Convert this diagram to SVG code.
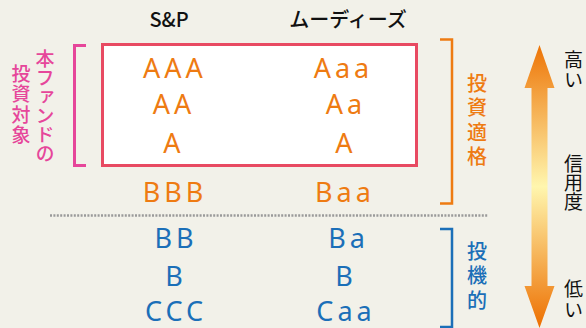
<svg xmlns="http://www.w3.org/2000/svg" width="586" height="328" viewBox="0 0 586 328">
<style>
.hd{font-family:"Noto Sans CJK JP","Noto Sans",sans-serif;font-size:20px;font-weight:500;fill:#111;text-anchor:middle}
.rt{font-family:"Noto Sans","Open Sans",sans-serif;font-size:27px;letter-spacing:4px;text-anchor:middle}
.or{fill:#ee7b12}
.bl{fill:#1b6fb8}
.vt{font-family:"Noto Sans CJK JP",sans-serif;writing-mode:vertical-rl;font-size:19px;font-weight:500}
.pk{fill:#e6469a}
.bk{fill:#111;font-weight:400}
</style>
<defs>
<linearGradient id="g" gradientUnits="userSpaceOnUse" x1="0" y1="45" x2="0" y2="328">
<stop offset="0" stop-color="#ed7406"/>
<stop offset="0.5" stop-color="#fff6ae"/>
<stop offset="1" stop-color="#ed6f00"/>
</linearGradient>
</defs>
<rect width="586" height="328" fill="#f2f1e9"/>
<g id="headers">
<text class="hd" x="169" y="27">S&amp;P</text>
<text class="hd" x="348" y="27">ムーディーズ</text>
</g>
<g id="target-box">
<rect x="102.5" y="44.5" width="314" height="121" fill="#fff" stroke="#e84a62" stroke-width="3"/>
</g>
<g id="target-label">
<path d="M86,45.5 H74.5 V165.5 H86" fill="none" stroke="#e6469a" stroke-width="3"/>
<text class="vt pk" x="45" y="49">本ファンドの</text>
<text class="vt pk" x="21" y="64" style="letter-spacing:1.5px">投資対象</text>
</g>
<g id="sp-ratings">
<text class="rt or" x="175" y="77.5">AAA</text>
<text class="rt or" x="174" y="114">AA</text>
<text class="rt or" x="174" y="152.5">A</text>
<text class="rt or" x="175" y="202">BBB</text>
<text class="rt bl" x="176" y="248">BB</text>
<text class="rt bl" x="176" y="286">B</text>
<text class="rt bl" x="176" y="321">CCC</text>
</g>
<g id="moodys-ratings">
<text class="rt or" x="343.5" y="77.5">Aaa</text>
<text class="rt or" x="346" y="114">Aa</text>
<text class="rt or" x="346" y="152.5">A</text>
<text class="rt or" x="345" y="202">Baa</text>
<text class="rt bl" x="348.5" y="248">Ba</text>
<text class="rt bl" x="346" y="286">B</text>
<text class="rt bl" x="346" y="321">Caa</text>
</g>
<g id="connectors">
<line x1="50" y1="215.5" x2="488" y2="215.5" stroke="#9a9a9a" stroke-width="2.5" stroke-dasharray="2 1.4"/>
</g>
<g id="investment-grade">
<path d="M440,39.5 H452 V203.5 H440" fill="none" stroke="#ee7b12" stroke-width="2.5"/>
<text class="vt or" x="477" y="73.5" style="font-size:20px;letter-spacing:4.3px">投資適格</text>
</g>
<g id="speculative">
<path d="M440,229 H452 V327 H440" fill="none" stroke="#1b6fb8" stroke-width="2.5"/>
<text class="vt bl" x="477" y="241.5" style="font-size:20px;letter-spacing:4.3px">投機的</text>
</g>
<g id="credit-arrow">
<polygon points="539.5,45 554.5,88 547.5,88 547.5,286 554.5,286 539.5,328 524.5,286 531.5,286 531.5,88 524.5,88" fill="url(#g)"/>
<text class="vt bk" x="573.5" y="50.5" style="letter-spacing:1px">高い</text>
<text class="vt bk" x="573.5" y="154">信用度</text>
<text class="vt bk" x="573.5" y="279" style="letter-spacing:2px">低い</text>
</g>
</svg>
